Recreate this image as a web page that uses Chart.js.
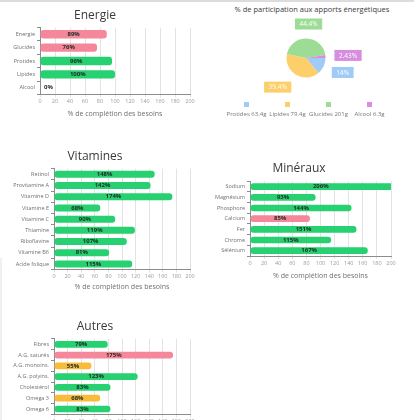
<!DOCTYPE html>
<html lang="fr">
<head>
<meta charset="utf-8">
<title>Bilan nutritionnel</title>
<script src="https://cdn.jsdelivr.net/npm/chart.js@4.4.1/dist/chart.umd.min.js"></script>
<style>
  html, body { margin: 0; padding: 0; background: #fff; }
  body { width: 414px; height: 420px; overflow: hidden; position: relative; font-family: "Open Sans", sans-serif; }
  .topline { position: absolute; left: 0; top: 0; width: 414px; height: 2px; background: #dcdcdc; }
  .leftshade { position: absolute; left: 0; top: 258px; width: 2px; height: 170px; background: #f0f0f0; }
  .box { position: absolute; }
  .pietitle { position: absolute; left: 212px; top: 4px; width: 200px; text-align: center; font-size: 7.5px; line-height: 10px; color: #3a3a3a; white-space: nowrap; }
  .legend { position: absolute; left: 226px; top: 102px; display: flex; }
  .legend .item { width: 41px; text-align: center; font-size: 6px; color: #777; line-height: 8px; white-space: nowrap; }
  .legend .sw { width: 5px; height: 5px; margin: 0 auto 3px; }
</style>
</head>
<body>
<div class="topline"></div>
<div class="leftshade"></div>

<div class="box" id="boxEnergie"><canvas id="chartEnergie"></canvas></div>
<div class="pietitle">% de participation aux apports énergétiques</div>
<div class="box" id="boxPie"><canvas id="chartPie"></canvas></div>
<div class="legend" id="pieLegend"></div>
<div class="box" id="boxVitamines"><canvas id="chartVitamines"></canvas></div>
<div class="box" id="boxMineraux"><canvas id="chartMineraux"></canvas></div>
<div class="box" id="boxAutres"><canvas id="chartAutres"></canvas></div>

<script>
// ---- data ----
const energieLabels = ['Energie', 'Glucides', 'Protides', 'Lipides', 'Alcool'];
const energieValues = [89, 76, 96, 100, 0];

const pieLabels = ['Protides 63.4g', 'Lipides 79.4g', 'Glucides 201g', 'Alcool 6.3g'];
const pieValues = [14, 39.4, 44.4, 2.43];

const vitaminesLabels = ['Retinol', 'Provitamine A', 'Vitamine D', 'Vitamine E', 'Vitamine C', 'Thiamine', 'Riboflavine', 'Vitamine B6', 'Acide folique'];
const vitaminesValues = [148, 142, 174, 68, 90, 119, 107, 81, 115];

const minerauxLabels = ['Sodium', 'Magnésium', 'Phosphore', 'Calcium', 'Fer', 'Chrome', 'Sélénium'];
const minerauxValues = [206, 93, 144, 85, 151, 115, 167];

const autresLabels = ['Fibres', 'A.G. saturés', 'A.G. monoins.', 'A.G. polyins.', 'Cholestérol', 'Omega 3', 'Omega 6'];
const autresValues = [79, 175, 55, 123, 83, 68, 83];

const xTicks = [0, 20, 40, 60, 80, 100, 120, 140, 160, 180, 200];

// ---- colours ----
const GREEN = '#27d070';
const PINK = '#f5879b';
const ORANGE = '#f9bb3a';
const energieColors = [PINK, PINK, GREEN, GREEN, GREEN];
const vitaminesColors = vitaminesValues.map(() => GREEN);
const minerauxColors = [GREEN, GREEN, GREEN, PINK, GREEN, GREEN, GREEN];
const autresColors = [GREEN, PINK, ORANGE, GREEN, GREEN, ORANGE, GREEN];
const pieColors = ['#9fcbf6', '#fdcf6a', '#9cdc94', '#d78edf'];

Chart.defaults.font.family = '"Open Sans", sans-serif';

// value written in the middle of each bar
const barValueLabels = {
  id: 'barValueLabels',
  afterDatasetsDraw(chart) {
    const { ctx, chartArea } = chart;
    const meta = chart.getDatasetMeta(0);
    const data = chart.data.datasets[0].data;
    ctx.save();
    ctx.font = 'bold 6px "Open Sans", sans-serif';
    ctx.fillStyle = '#1e2a22';
    ctx.textBaseline = 'middle';
    meta.data.forEach((bar, i) => {
      const { x, y, base } = bar.getProps(['x', 'y', 'base'], true);
      const end = Math.min(x, chartArea.right);
      const txt = data[i] + '%';
      if (end - base < 14) {
        ctx.textAlign = 'left';
        ctx.fillText(txt, base + 4, y);
      } else {
        ctx.textAlign = 'center';
        ctx.fillText(txt, (base + end) / 2, y);
      }
    });
    ctx.restore();
  }
};

// coloured boxes around the pie
const pieBoxLabels = {
  id: 'pieBoxLabels',
  afterDatasetsDraw(chart) {
    const { ctx } = chart;
    const meta = chart.getDatasetMeta(0);
    ctx.save();
    ctx.font = '6.5px "Open Sans", sans-serif';
    ctx.textAlign = 'center';
    ctx.textBaseline = 'middle';
    meta.data.forEach((arc, i) => {
      const p = arc.getProps(['x', 'y', 'startAngle', 'endAngle', 'outerRadius'], true);
      const mid = (p.startAngle + p.endAngle) / 2;
      const txt = pieValues[i] + '%';
      const w = ctx.measureText(txt).width + 9;
      const h = 11;
      const c = Math.cos(mid), s = Math.sin(mid);
      const r = p.outerRadius + 9;
      const k = Math.max(-1, Math.min(1, c * 5));
      const cx = p.x + c * r + k * w / 2;
      const cy = p.y + s * r + s * h / 2;
      ctx.fillStyle = pieColors[i];
      ctx.fillRect(cx - w / 2, cy - h / 2, w, h);
      ctx.fillStyle = '#fff';
      ctx.fillText(txt, cx, cy + 0.5);
    });
    ctx.restore();
  }
};

// place a bar chart so its plot area lands where wanted
function frame(boxId, left, top, width, plotLeft, plotRight, titleY, areaTop, areaBottom, xTitleY) {
  const xHeight = xTitleY + 8.2 - areaBottom;
  const el = document.getElementById(boxId);
  el.style.left = left + 'px';
  el.style.top = top + 'px';
  el.style.width = width + 'px';
  el.style.height = (areaBottom + xHeight - top) + 'px';
  return {
    yWidth: plotLeft - left,
    padRight: left + width - plotRight,
    titleTop: titleY - top - 7.2,
    titleBottom: areaTop - titleY - 7.2,
    xHeight
  };
}

function barChart(id, title, labels, values, colors, f) {
  return new Chart(document.getElementById(id), {
    type: 'bar',
    data: {
      labels: labels,
      datasets: [{
        data: values,
        backgroundColor: colors,
        borderRadius: 3,
        borderSkipped: false,
        barPercentage: 0.78,
        categoryPercentage: 0.8
      }]
    },
    options: {
      indexAxis: 'y',
      responsive: true,
      maintainAspectRatio: false,
      animation: false,
      layout: { padding: { left: 0, right: f.padRight, top: 0, bottom: 0 } },
      plugins: {
        legend: { display: false },
        tooltip: { enabled: false },
        title: {
          display: true,
          text: title,
          color: '#3a3a3a',
          font: { size: 12, weight: 'normal' },
          padding: { top: f.titleTop, bottom: f.titleBottom }
        }
      },
      scales: {
        x: {
          min: xTicks[0],
          max: xTicks[xTicks.length - 1],
          afterBuildTicks: s => { s.ticks = xTicks.map(v => ({ value: v })); },
          ticks: { color: '#9a9a9a', font: { size: 5.5 }, padding: 1, maxRotation: 0 },
          grid: { color: '#e3e3e3', tickLength: 3 },
          border: { color: '#8c8c8c' },
          title: {
            display: true,
            text: '% de complétion des besoins',
            color: '#707070',
            font: { size: 7 },
            padding: 4
          },
          afterFit: s => { s.height = f.xHeight; }
        },
        y: {
          ticks: { color: '#707070', font: { size: 5.5 }, padding: 2 },
          grid: { drawOnChartArea: false, tickLength: 3, color: '#8c8c8c' },
          border: { color: '#8c8c8c' },
          afterFit: s => { s.width = f.yWidth; }
        }
      }
    },
    plugins: [barValueLabels]
  });
}

barChart('chartEnergie', 'Energie', energieLabels, energieValues, energieColors,
  frame('boxEnergie', 0, 0, 207, 40, 190, 16, 27.6, 94.4, 114));
barChart('chartVitamines', 'Vitamines', vitaminesLabels, vitaminesValues, vitaminesColors,
  frame('boxVitamines', 0, 140, 207, 54, 190, 157, 168.7, 269.6, 287));
barChart('chartMineraux', 'Minéraux', minerauxLabels, minerauxValues, minerauxColors,
  frame('boxMineraux', 207, 150, 199, 250, 391, 169, 181.3, 256, 276));
barChart('chartAutres', 'Autres', autresLabels, autresValues, autresColors,
  frame('boxAutres', 0, 300, 207, 54, 190, 327, 338.9, 414.4, 432));

// pie: plot area is a 39px square centred on (306, 58)
const pieBox = document.getElementById('boxPie');
pieBox.style.left = '210px';
pieBox.style.top = '0px';
pieBox.style.width = '204px';
pieBox.style.height = '125px';

new Chart(document.getElementById('chartPie'), {
  type: 'pie',
  data: {
    labels: pieLabels,
    datasets: [{ data: pieValues, backgroundColor: pieColors, borderWidth: 0 }]
  },
  options: {
    responsive: true,
    maintainAspectRatio: false,
    animation: false,
    rotation: 90,
    layout: { padding: { left: 76.5, right: 88.5, top: 38.5, bottom: 47.5 } },
    plugins: {
      legend: { display: false },
      tooltip: { enabled: false }
    }
  },
  plugins: [pieBoxLabels]
});

// legend under the pie: swatch above the text
const legendEl = document.getElementById('pieLegend');
pieLabels.forEach((label, i) => {
  const item = document.createElement('div');
  item.className = 'item';
  const sw = document.createElement('div');
  sw.className = 'sw';
  sw.style.background = pieColors[i];
  item.appendChild(sw);
  item.appendChild(document.createTextNode(label));
  legendEl.appendChild(item);
});
</script>
</body>
</html>
